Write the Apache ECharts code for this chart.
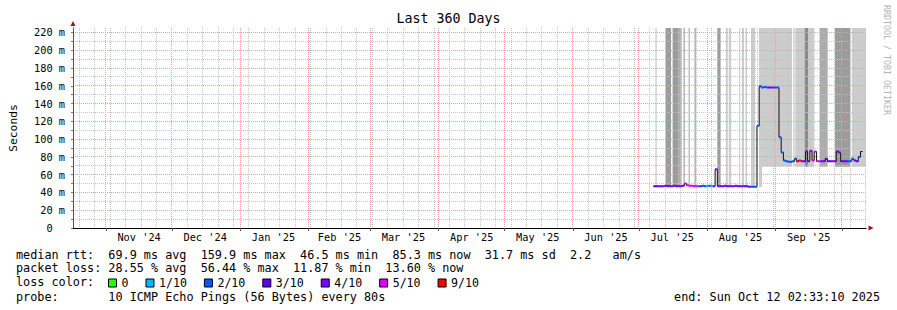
<!DOCTYPE html>
<html><head><meta charset="utf-8">
<script src="https://cdn.jsdelivr.net/npm/echarts@6/dist/echarts.min.js"></script>
<style>html,body{margin:0;padding:0;background:#fff}#c{width:897px;height:310px}</style>
</head><body><div id="c"></div>
<script>
// ---------- data ----------
const startTime = Date.UTC(2024, 9, 17, 2, 33, 10);   // end minus 360 days
const spanDays = 360;
const DAY = 86400000;

const monthLabels = ["Nov '24","Dec '24","Jan '25","Feb '25","Mar '25","Apr '25","May '25","Jun '25","Jul '25","Aug '25","Sep '25"];
const monthLabelDates = ['2024-11-16','2024-12-16','2025-01-16','2025-02-15','2025-03-16','2025-04-16','2025-05-16','2025-06-16','2025-07-16','2025-08-16','2025-09-16'];

const yTickValues = [0,20,40,60,80,100,120,140,160,180,200,220];
const yMinorValues = [10,30,50,70,90,110,130,150,170,190,210];

const lossNames  = ['0','1/10','2/10','3/10','4/10','5/10','9/10'];
const lossColors = ['#26ff00','#00b8ff','#0059ff','#5e00ff','#7e00ff','#dd00ff','#ff0000'];

// median rtt (ms), one sample per day starting at day offset 263.5
const sampleStartDay = 263.5;
const medianValues = [
  47,47,47,47,47,47.5,47,47,47,47.5,47,47,47,47.5,
  50,48,47.5,47.5,47,47,
  47,47,47.5,47,47,47.5,
  47,47,66,47,47,47,47.5,47,47,47,47,47.5,47,47,47,47,47,
  46.5,46.5,46.5,46.5,
  115,159.5,158,158.5,158,158,158,158,158,158,
  102,85,76,75,74.5,74.5,75,78,75,76,
  75,75,86,75,87,76,86,75,75,75,75,78,
  75,75,75,75,86,85,75,75,75,75,75,78,76,75,80,86,85.3
];
const lossLevel = [
  3,3,4,4,4,4,4,4,4,4,4,4,4,4,
  5,5,5,5,5,5,
  2,4,2,2,1,2,
  1,4,4,4,4,4,4,4,4,4,4,4,4,4,4,
  3,4,3,2,
  2,2,2,2,2,2,2,3,4,4,
  2,2,2,2,2,2,2,2,2,2,
  6,6,4,3,4,3,4,5,5,5,5,4,
  3,3,3,3,4,4,3,4,3,4,3,2,2,2,3,3,2
];

// smoke bands (day offsets from start), lower edge (ms), shade index
const smokeFrom  = [264.4,269.0,272.2,274.7,277.2,279.5,282.2,292.5,296.6,297.7,302.4,303.75,305.3,307.8,311.4,312.8,327.0,327.9,332.1,333.9,339.0,345.9,353.6];
const smokeTo    = [265.0,271.5,274.7,276.3,277.7,279.95,282.65,294.0,297.1,298.8,302.9,304.65,306.0,309.7,312.8,326.4,327.6,332.1,333.9,336.6,342.6,352.9,360.0];
const smokeLow   = [47,47,47,47,47,47,47,47,47,47,47,47,47,47,46,69,69,69,69,69,69,69,69];
const smokeShade = [0,2,2,1,2,2,3,2,1,0,0,0,0,0,0,0,0,0,3,0,1,2,0];
const smokeShades = ['#cccccc','#acacac','#9c9c9c','#8a8a8a'];

const statRow1 = 'median rtt:  69.9 ms avg  159.9 ms max  46.5 ms min  85.3 ms now  31.7 ms sd  2.2   am/s';
const statRow2 = 'packet loss: 28.55 % avg  56.44 % max  11.87 % min  13.60 % now';
const lossRowLabel = 'loss color:';
const probeRow = 'probe:       10 ICMP Echo Pings (56 Bytes) every 80s';
const endText = 'end: Sun Oct 12 02:33:10 2025';

// ---------- build ----------
const endTime = startTime + spanDays * DAY;
const yMax = 225;
const MONO = "'DejaVu Sans Mono', monospace";
const GRAY = '#c4c4c4', RED = '#f59a9a';
const pad = n => (n < 10 ? '0' : '') + n;
const dayCats = [];
for (let i = 0; i <= spanDays; i++) {
  const d = new Date(startTime + i * DAY);
  dayCats.push(d.getUTCFullYear() + '-' + pad(d.getUTCMonth() + 1) + '-' + pad(d.getUTCDate()));
}
const dayOf = i => new Date(startTime + i * DAY);
const isMonthStart = i => dayOf(i).getUTCDate() === 1;
const labelMap = {};
monthLabelDates.forEach((d, k) => { labelMap[d] = monthLabels[k]; });

// vertical grid: Sundays (gray) and month starts (red), at midnight UTC
const vGrid = [];
const vGridRed = [];
for (let i = 0; i <= spanDays + 1; i++) {
  const d = new Date(startTime + i * DAY);
  const mid = Date.UTC(d.getUTCFullYear(), d.getUTCMonth(), d.getUTCDate());
  if (mid <= startTime || mid >= endTime) continue;
  if (d.getUTCDate() === 1) vGridRed.push([mid, 1]);
  else if (d.getUTCDay() === 0) vGrid.push([mid, 0]);
}
const vGridData = vGrid.concat(vGridRed);
const hGridData = yMinorValues.map(v => [v, 0]).concat(yTickValues.filter(v => v > 0).map(v => [v, 1]));

const tOf = i => startTime + (sampleStartDay + i) * DAY;
const medianData = medianValues.map((v, i) => [tOf(i), v]);

const lossSeries = lossNames.map((name, k) => {
  const arr = [];
  medianValues.forEach((v, i) => {
    if (lossLevel[i] === k) {
      arr.push([tOf(i), v], [tOf(i + 1), v], [tOf(i + 1), '-']);
    }
  });
  return {
    name, type: 'line', xAxisIndex: 0, yAxisIndex: 0, data: arr,
    showSymbol: false, symbol: 'none', z: 6, silent: true,
    color: lossColors[k],
    itemStyle: { color: lossColors[k] },
    lineStyle: { color: lossColors[k], width: 2 },
    connectNulls: false, animation: false
  };
});

const smokeData = smokeFrom.map((f, i) => [startTime + f * DAY, startTime + smokeTo[i] * DAY, smokeLow[i], smokeShade[i]]);

const FONT = '11.8px ' + MONO;
const txt = (s, x, y, align) => ({
  type: 'text', x, y, silent: true,
  style: { text: s, font: FONT, fill: '#000', align: align || 'left', verticalAlign: 'middle', lineHeight: 12 }
});
const graphics = [
  txt(statRow1, 16, 254.5),
  txt(statRow2, 16, 268.3),
  txt(lossRowLabel, 16, 281.5),
  txt(probeRow, 16, 296.5),
  txt(endText, 880, 296.5, 'right'),
  {
    type: 'text', x: 887, y: 60, rotation: -Math.PI / 2, silent: true,
    style: { text: 'RRDTOOL / TOBI OETIKER', font: '8.3px ' + MONO, fill: '#b4b4b4', align: 'center', verticalAlign: 'middle' }
  }
];

const crisp = v => Math.floor(v) + 0.5;

const chart = echarts.init(document.getElementById('c'), null, { renderer: 'svg' });
chart.setOption({
  animation: false,
  backgroundColor: '#fff',
  title: {
    text: 'Last 360 Days', left: 'center', top: 12, padding: 0,
    textStyle: { fontFamily: MONO, fontSize: 13.3, fontWeight: 'normal', color: '#000' }
  },
  grid: { left: 66, top: 28, width: 800, height: 200, containLabel: false },
  legend: {
    data: lossNames, left: 108, top: 277, padding: 0,
    itemWidth: 8, itemHeight: 8, itemGap: 17, icon: 'rect', selectedMode: false,
    itemStyle: { borderColor: '#000', borderWidth: 1 },
    textStyle: { fontFamily: MONO, fontSize: 11.6, color: '#000', lineHeight: 10 }
  },
  xAxis: [
    { type: 'time', min: startTime, max: endTime, show: false },
    {
      type: 'category', data: dayCats, boundaryGap: false, position: 'bottom', z: 3,
      axisLine: { show: true, onZero: false, lineStyle: { color: '#a01010', width: 1 }, symbol: ['none', 'triangle'], symbolSize: [5, 5], symbolOffset: [0, 5] },
      axisTick: { show: false }, axisLabel: { show: false }, splitLine: { show: false }
    },
    {
      type: 'category', data: dayCats, boundaryGap: false, position: 'bottom', z: 4,
      axisLine: { show: true, onZero: false, lineStyle: { color: '#000', width: 1 } },
      axisTick: { show: true, interval: (i) => isMonthStart(i), length: 3, lineStyle: { color: '#555' } },
      axisLabel: {
        show: true, interval: (i, v) => labelMap[v] !== undefined,
        formatter: (v) => labelMap[v] || '',
        fontFamily: MONO, fontSize: 10.3, color: '#000', margin: 4
      },
      splitLine: { show: false }
    }
  ],
  yAxis: [
    {
      type: 'value', min: 0, max: yMax, interval: 20, position: 'left', z: 3,
      axisLine: { show: true, onZero: false, lineStyle: { color: '#a01010', width: 1 }, symbol: ['none', 'triangle'], symbolSize: [5, 5], symbolOffset: [0, 4.5] },
      axisTick: { show: false }, axisLabel: { show: false }, splitLine: { show: false }
    },
    {
      type: 'value', min: 0, max: yMax, interval: 10, position: 'left', z: 4,
      name: 'Seconds', nameLocation: 'middle', nameGap: 54, nameRotate: 90,
      nameTextStyle: { fontFamily: MONO, fontSize: 11.3, color: '#000' },
      axisLine: { show: true, onZero: false, lineStyle: { color: '#555', width: 1 } },
      axisTick: { show: true, length: 2, lineStyle: { color: '#777' } },
      axisLabel: {
        show: true, showMaxLabel: false, margin: 8,
        formatter: (v) => (yTickValues.indexOf(v) < 0 ? '' : (v === 0 ? '0  ' : v + ' m')),
        fontFamily: MONO, fontSize: 10.3, color: '#000'
      },
      splitLine: { show: false }
    }
  ],
  series: [
    {
      type: 'custom', name: 'smoke', xAxisIndex: 0, yAxisIndex: 0, z: 1, silent: true, clip: true,
      data: smokeData, encode: { x: [0, 1], y: 2 },
      renderItem: (params, api) => {
        const lo = api.coord([api.value(0), api.value(2)]);
        const hi = api.coord([api.value(1), yMax]);
        return { type: 'rect', shape: { x: lo[0], y: hi[1], width: hi[0] - lo[0], height: lo[1] - hi[1] }, style: { fill: smokeShades[api.value(3)] } };
      }
    },
    {
      type: 'custom', name: 'vgrid', xAxisIndex: 0, yAxisIndex: 0, z: 3, silent: true, clip: false,
      data: vGridData, encode: { x: 0 },
      renderItem: (params, api) => {
        const b = api.coord([api.value(0), 0]);
        const t = api.coord([api.value(0), yMax]);
        const x = crisp(b[0]);
        return { type: 'line', shape: { x1: x, y1: t[1], x2: x, y2: b[1] },
                 style: { stroke: api.value(1) ? RED : GRAY, lineWidth: 1, lineDash: [1, 1] } };
      }
    },
    {
      type: 'custom', name: 'hgrid', xAxisIndex: 0, yAxisIndex: 0, z: 3, silent: true, clip: false,
      data: hGridData, encode: { y: 0 },
      renderItem: (params, api) => {
        const l = api.coord([startTime, api.value(0)]);
        const r = api.coord([endTime, api.value(0)]);
        const y = crisp(l[1]);
        return { type: 'line', shape: { x1: l[0], y1: y, x2: r[0], y2: y },
                 style: { stroke: api.value(1) ? RED : GRAY, lineWidth: 1, lineDash: [1, 1] } };
      }
    },
    {
      type: 'line', name: 'median', xAxisIndex: 0, yAxisIndex: 0, data: medianData, step: 'end',
      showSymbol: false, symbol: 'none', z: 5, silent: true,
      lineStyle: { color: '#111', width: 1 }
    },
    ...lossSeries
  ],
  graphic: graphics
});
</script></body></html>
